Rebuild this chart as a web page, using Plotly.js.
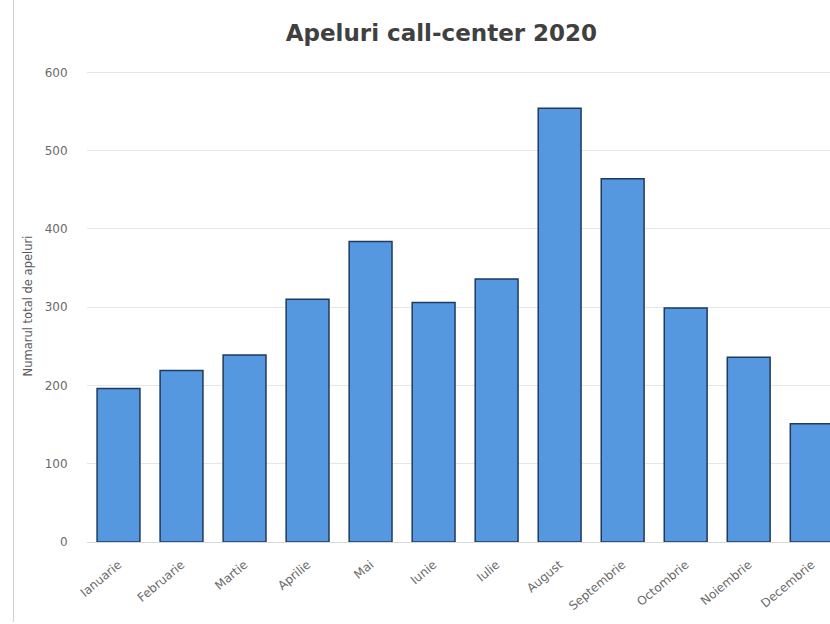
<!DOCTYPE html>
<html>
<head>
<meta charset="utf-8">
<script src="https://cdn.plot.ly/plotly-3.0.1.min.js"></script>
<style>
html,body{margin:0;padding:0;background:#fff;}
#chart{width:830px;height:624px;}
</style>
</head>
<body>
<div id="chart"></div>
<script>
const months = ["Ianuarie","Februarie","Martie","Aprilie","Mai","Iunie","Iulie","August","Septembrie","Octombrie","Noiembrie","Decembrie"];
const calls = [196, 219, 239, 310, 384, 306, 336, 554, 464, 299, 236, 151];
const yTicks = [0, 100, 200, 300, 400, 500, 600];

const trace = {
  type: "bar",
  x: months,
  y: calls,
  marker: {
    color: "#5598e0",
    line: {color: "#1f3a5e", width: 1.5}
  },
  hoverinfo: "x+y"
};

const layout = {
  width: 830,
  height: 624,
  paper_bgcolor: "#ffffff",
  plot_bgcolor: "#ffffff",
  margin: {l: 87, r: 0, t: 70, b: 82},
  bargap: 0.32,
  showlegend: false,
  font: {family: "DejaVu Sans, sans-serif", color: "#595959"},
  title: {
    text: "<b>Apeluri call-center 2020</b>",
    font: {size: 23, color: "#404040", family: "DejaVu Sans, sans-serif"},
    xref: "paper", x: 0.477, xanchor: "center",
    yref: "container", y: 0.947, yanchor: "middle"
  },
  xaxis: {
    type: "category",
    range: [-0.5, 11.29],
    tickangle: -40,
    tickfont: {size: 12, color: "#6a6a6a"},
    showgrid: false,
    showline: false,
    ticks: "outside",
    ticklen: 10,
    tickcolor: "rgba(0,0,0,0)"
  },
  yaxis: {
    range: [0, 603],
    tickvals: yTicks,
    ticktext: yTicks.map(String),
    tickfont: {size: 12, color: "#6a6a6a"},
    gridcolor: "#e6e6e6",
    gridwidth: 1,
    zeroline: true,
    zerolinecolor: "#d9d9d9",
    showline: false,
    ticks: "outside",
    ticklen: 16,
    tickcolor: "rgba(0,0,0,0)",
    title: {
      text: "Numarul total de apeluri",
      font: {size: 11.5, color: "#595959"},
      standoff: 9
    }
  },
  shapes: [{
    type: "line", xref: "paper", yref: "paper",
    x0: -0.099, x1: -0.099, y0: -0.17, y1: 1.15,
    line: {color: "#d0d0d0", width: 1}
  }]
};

Plotly.newPlot("chart", [trace], layout, {displayModeBar: false, staticPlot: true});
</script>
</body>
</html>
